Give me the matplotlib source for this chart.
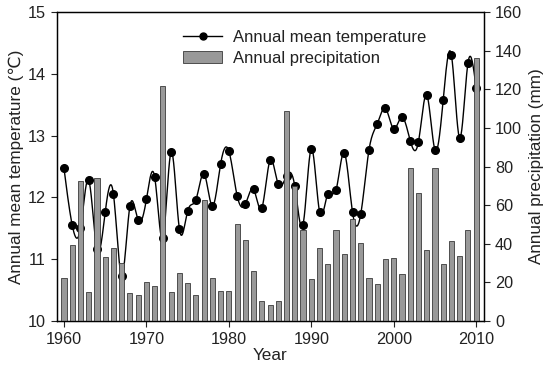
import numpy as np
import matplotlib
matplotlib.use("Agg")
import matplotlib.pyplot as plt
from matplotlib.lines import Line2D
from matplotlib.patches import Patch

plt.rcParams['font.family'] = ['Liberation Sans', 'DejaVu Sans']

years = list(range(1960, 2011))

# Annual mean temperature (degC)
temp = [12.47, 11.55, 11.50, 12.28, 11.16, 11.76, 12.05, 10.73, 11.86, 11.63,
        11.97, 12.33, 11.34, 12.74, 11.49, 11.78, 11.96, 12.38, 11.86, 12.54,
        12.75, 12.03, 11.89, 12.13, 11.83, 12.60, 12.21, 12.35, 12.18, 11.56,
        12.79, 11.77, 12.06, 12.12, 12.72, 11.76, 11.73, 12.77, 13.19, 13.44,
        13.11, 13.30, 12.92, 12.90, 13.66, 12.77, 13.58, 14.30, 12.96, 14.17,
        13.77]

# Annual precipitation (mm)
precip = [22.4, 39.3, 72.6, 15.1, 74.2, 33.2, 37.9, 29.9, 14.3, 13.5,
          20.0, 18.2, 121.7, 15.1, 25.0, 19.8, 13.5, 62.5, 22.4, 15.6,
          15.6, 50.2, 42.0, 25.9, 10.4, 8.3, 10.3, 108.5, 69.8, 46.9,
          21.6, 37.7, 29.5, 47.2, 34.7, 52.6, 40.3, 22.2, 19.1, 32.3,
          32.8, 24.2, 79.2, 66.4, 36.8, 79.2, 29.4, 41.2, 33.9, 46.9,
          136.1]


def natural_spline(x, y, n=20):
    # natural cubic spline, only for drawing the smooth curve
    x = np.asarray(x, float)
    y = np.asarray(y, float)
    m = len(x)
    h = np.diff(x)
    A = np.zeros((m, m))
    b = np.zeros(m)
    A[0, 0] = 1
    A[-1, -1] = 1
    for i in range(1, m - 1):
        A[i, i - 1] = h[i - 1]
        A[i, i] = 2 * (h[i - 1] + h[i])
        A[i, i + 1] = h[i]
        b[i] = 3 * ((y[i + 1] - y[i]) / h[i] - (y[i] - y[i - 1]) / h[i - 1])
    c = np.linalg.solve(A, b)
    xs, ys = [], []
    for i in range(m - 1):
        bi = (y[i + 1] - y[i]) / h[i] - h[i] * (2 * c[i] + c[i + 1]) / 3
        di = (c[i + 1] - c[i]) / (3 * h[i])
        t = np.linspace(0, h[i], n, endpoint=False)
        xs.extend(x[i] + t)
        ys.extend(y[i] + bi * t + c[i] * t ** 2 + di * t ** 3)
    xs.append(x[-1])
    ys.append(y[-1])
    return np.array(xs), np.array(ys)


fig = plt.figure(figsize=(5.5, 3.76), dpi=100)
ax = fig.add_axes([0.1036, 0.1463, 0.7764, 0.8217])
ax2 = ax.twinx()

sx, sy = natural_spline(years, temp)
ax.plot(sx, sy, color='black', lw=1.0, zorder=2)
ax.plot(years, temp, 'o', color='black', ms=5.5, zorder=3)

ax2.bar(years, precip, width=0.62, color='#999999', edgecolor='#3a3a3a', linewidth=0.6)

ax.set_xlim(1959.15, 2010.95)
ax.set_ylim(10, 15)
ax2.set_ylim(0, 160)
ax.set_xticks([1960, 1970, 1980, 1990, 2000, 2010])
ax.set_yticks([10, 11, 12, 13, 14, 15])
ax2.set_yticks(range(0, 161, 20))

for a in (ax, ax2):
    a.tick_params(direction='out', length=4.5, width=0.8, labelsize=11.7, colors='#222222')
    for s in a.spines.values():
        s.set_linewidth(0.9)

ax.set_xlabel('Year', fontsize=12.3, labelpad=1, color='#222222')
ax.set_ylabel('Annual mean temperature (\u2103)', fontsize=12.3, labelpad=3, color='#222222')
ax2.set_ylabel('Annual precipitation (mm)', fontsize=12.3, labelpad=5, color='#222222')

handles = [Line2D([], [], color='black', marker='o', ms=5, lw=1.0),
           Patch(facecolor='#999999', edgecolor='#3a3a3a', linewidth=0.6)]
ax2.legend(handles, ['Annual mean temperature', 'Annual precipitation'],
           loc='upper left', bbox_to_anchor=(0.333, 0.92), bbox_transform=fig.transFigure,
           frameon=False, fontsize=12, handlelength=2.33, handletextpad=0.65,
           labelspacing=0.36, borderaxespad=0, borderpad=0, labelcolor='#222222')

fig.savefig('out.png', dpi=100)
